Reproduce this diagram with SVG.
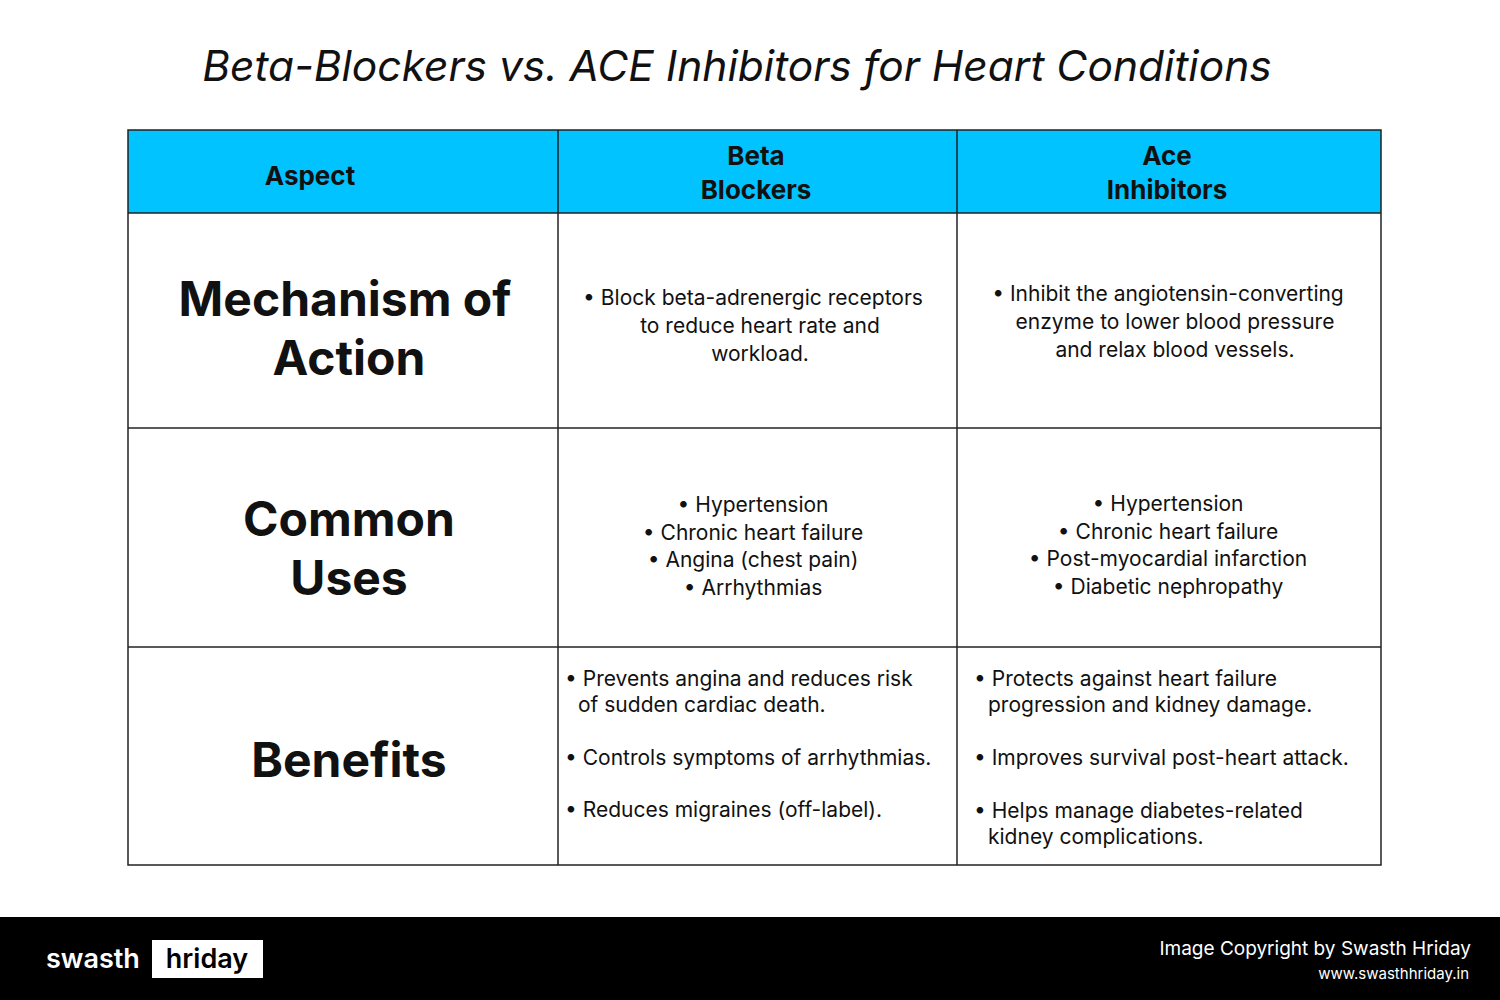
<svg xmlns="http://www.w3.org/2000/svg" width="1500" height="1000" viewBox="0 0 1500 1000">
<style>
text{font-family:Inter,"Noto Sans",sans-serif;fill:#111}
.h{font-size:26px;font-weight:700;text-anchor:middle}
.a{font-size:48px;font-weight:700;text-anchor:middle}
.c{font-size:21px;text-anchor:middle}
.l{font-size:21px}
line{stroke:#222;stroke-width:1.5}
</style>
<rect width="1500" height="1000" fill="#fff"/>
<text x="737" y="81" style="font-size:42.5px;font-style:italic;text-anchor:middle">Beta-Blockers vs. ACE Inhibitors for Heart Conditions</text>
<g id="table">
<rect x="128" y="130" width="1253" height="83" fill="#00C3FF"/>
<rect x="128" y="130" width="1253" height="735" fill="none" stroke="#222" stroke-width="1.5"/>
<line x1="558" y1="130" x2="558" y2="865"/><line x1="957" y1="130" x2="957" y2="865"/>
<line x1="128" y1="213" x2="1381" y2="213"/><line x1="128" y1="428" x2="1381" y2="428"/><line x1="128" y1="647" x2="1381" y2="647"/>
<text class="h" x="310" y="185">Aspect</text>
<text class="h" x="756" y="165">Beta</text><text class="h" x="756" y="199">Blockers</text>
<text class="h" x="1167" y="165">Ace</text><text class="h" x="1167" y="199">Inhibitors</text>
<text class="a" x="345" y="316">Mechanism of</text><text class="a" x="349" y="375">Action</text>
<text class="a" x="349" y="536">Common</text><text class="a" x="349" y="595">Uses</text>
<text class="a" x="349" y="777">Benefits</text>
<text class="c" x="753" y="305">• Block beta-adrenergic receptors</text>
<text class="c" x="760" y="333">to reduce heart rate and</text>
<text class="c" x="760" y="361">workload.</text>
<text class="c" x="1168" y="301">• Inhibit the angiotensin-converting</text>
<text class="c" x="1175" y="329">enzyme to lower blood pressure</text>
<text class="c" x="1175" y="357">and relax blood vessels.</text>
<text class="c" x="753" y="512">• Hypertension</text>
<text class="c" x="753" y="540">• Chronic heart failure</text>
<text class="c" x="753" y="567">• Angina (chest pain)</text>
<text class="c" x="753" y="595">• Arrhythmias</text>
<text class="c" x="1168" y="511">• Hypertension</text>
<text class="c" x="1168" y="539">• Chronic heart failure</text>
<text class="c" x="1168" y="566">• Post-myocardial infarction</text>
<text class="c" x="1168" y="594">• Diabetic nephropathy</text>
<text class="l" x="565" y="686">• Prevents angina and reduces risk</text>
<text class="l" x="578" y="712">of sudden cardiac death.</text>
<text class="l" x="565" y="765">• Controls symptoms of arrhythmias.</text>
<text class="l" x="565" y="817">• Reduces migraines (off-label).</text>
<text class="l" x="974" y="686">• Protects against heart failure</text>
<text class="l" x="988" y="712">progression and kidney damage.</text>
<text class="l" x="974" y="765">• Improves survival post-heart attack.</text>
<text class="l" x="974" y="818">• Helps manage diabetes-related</text>
<text class="l" x="988" y="844">kidney complications.</text>
</g>
<g id="footer">
<rect x="0" y="917" width="1500" height="83" fill="#000"/>
<text x="46" y="968" style="fill:#fff;font-size:27px;font-weight:600">swasth</text>
<rect x="152" y="940" width="111" height="38" fill="#fff"/>
<text x="207" y="968" style="fill:#000;font-size:27px;font-weight:600;text-anchor:middle">hriday</text>
<text x="1471" y="955" style="fill:#fff;font-size:19px;text-anchor:end">Image Copyright by Swasth Hriday</text>
<text x="1469" y="979" style="fill:#fff;font-size:15px;text-anchor:end">www.swasthhriday.in</text>
</g>
</svg>
